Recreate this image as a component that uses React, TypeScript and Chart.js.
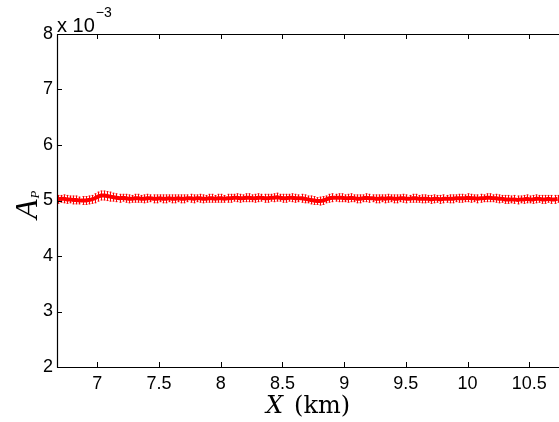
import React, { useEffect, useRef } from "react";
import { Chart, registerables } from "chart.js";

Chart.register(...registerables);

// X positions (km)
const xKm: number[] = [
  6.68, 6.705, 6.73, 6.755, 6.78, 6.805, 6.83, 6.855, 6.88, 6.905,
  6.93, 6.955, 6.98, 7.005, 7.03, 7.055, 7.08, 7.105, 7.13, 7.155,
  7.18, 7.205, 7.23, 7.255, 7.28, 7.305, 7.33, 7.355, 7.38, 7.405,
  7.43, 7.455, 7.48, 7.505, 7.53, 7.555, 7.58, 7.605, 7.63, 7.655,
  7.68, 7.705, 7.73, 7.755, 7.78, 7.805, 7.83, 7.855, 7.88, 7.905,
  7.93, 7.955, 7.98, 8.005, 8.03, 8.055, 8.08, 8.105, 8.13, 8.155,
  8.18, 8.205, 8.23, 8.255, 8.28, 8.305, 8.33, 8.355, 8.38, 8.405,
  8.43, 8.455, 8.48, 8.505, 8.53, 8.555, 8.58, 8.605, 8.63, 8.655,
  8.68, 8.705, 8.73, 8.755, 8.78, 8.805, 8.83, 8.855, 8.88, 8.905,
  8.93, 8.955, 8.98, 9.005, 9.03, 9.055, 9.08, 9.105, 9.13, 9.155,
  9.18, 9.205, 9.23, 9.255, 9.28, 9.305, 9.33, 9.355, 9.38, 9.405,
  9.43, 9.455, 9.48, 9.505, 9.53, 9.555, 9.58, 9.605, 9.63, 9.655,
  9.68, 9.705, 9.73, 9.755, 9.78, 9.805, 9.83, 9.855, 9.88, 9.905,
  9.93, 9.955, 9.98, 10.005, 10.03, 10.055, 10.08, 10.105, 10.13, 10.155,
  10.18, 10.205, 10.23, 10.255, 10.28, 10.305, 10.33, 10.355, 10.38, 10.405,
  10.43, 10.455, 10.48, 10.505, 10.53, 10.555, 10.58, 10.605, 10.63, 10.655,
  10.68, 10.705, 10.73,
];

// A_P values (x 10^-3)
const apValues: number[] = [
  5.02, 5.03, 5.03, 5.02, 5.02, 5.01, 5.01, 5.00, 5.00, 5.00,
  5.01, 5.02, 5.04, 5.07, 5.09, 5.09, 5.08, 5.07, 5.06, 5.05,
  5.04, 5.05, 5.04, 5.03, 5.03, 5.04, 5.04, 5.03, 5.03, 5.04,
  5.04, 5.03, 5.03, 5.04, 5.03, 5.03, 5.04, 5.03, 5.03, 5.04,
  5.03, 5.03, 5.04, 5.04, 5.03, 5.04, 5.04, 5.03, 5.03, 5.04,
  5.04, 5.03, 5.04, 5.04, 5.03, 5.04, 5.04, 5.05, 5.05, 5.04,
  5.04, 5.05, 5.05, 5.04, 5.04, 5.05, 5.05, 5.04, 5.04, 5.05,
  5.05, 5.06, 5.05, 5.04, 5.04, 5.05, 5.05, 5.04, 5.04, 5.04,
  5.03, 5.02, 5.01, 5.00, 4.99, 4.99, 5.00, 5.02, 5.04, 5.05,
  5.05, 5.05, 5.05, 5.04, 5.04, 5.05, 5.04, 5.03, 5.03, 5.04,
  5.05, 5.04, 5.04, 5.03, 5.03, 5.04, 5.03, 5.04, 5.04, 5.03,
  5.03, 5.04, 5.04, 5.03, 5.03, 5.04, 5.04, 5.03, 5.03, 5.03,
  5.03, 5.02, 5.03, 5.03, 5.02, 5.03, 5.03, 5.03, 5.03, 5.04,
  5.04, 5.04, 5.04, 5.05, 5.04, 5.04, 5.03, 5.04, 5.04, 5.05,
  5.05, 5.04, 5.04, 5.03, 5.03, 5.02, 5.02, 5.02, 5.02, 5.01,
  5.02, 5.02, 5.03, 5.02, 5.02, 5.03, 5.03, 5.02, 5.02, 5.03,
  5.02, 5.02, 5.03,
];

// error half-widths (x 10^-3)
const apErrors: number[] = [
  0.08, 0.07, 0.08, 0.08, 0.07, 0.08, 0.08, 0.07, 0.08, 0.08,
  0.08, 0.08, 0.09, 0.09, 0.09, 0.09, 0.09, 0.09, 0.08, 0.08,
  0.08, 0.07, 0.08, 0.08, 0.07, 0.08, 0.08, 0.07, 0.08, 0.08,
  0.07, 0.08, 0.08, 0.07, 0.08, 0.08, 0.07, 0.08, 0.08, 0.07,
  0.08, 0.08, 0.07, 0.08, 0.08, 0.07, 0.08, 0.08, 0.07, 0.08,
  0.08, 0.07, 0.08, 0.08, 0.07, 0.08, 0.08, 0.07, 0.08, 0.08,
  0.07, 0.08, 0.08, 0.07, 0.08, 0.08, 0.07, 0.08, 0.08, 0.07,
  0.08, 0.08, 0.07, 0.08, 0.08, 0.07, 0.08, 0.08, 0.07, 0.08,
  0.08, 0.07, 0.08, 0.08, 0.07, 0.08, 0.08, 0.07, 0.08, 0.08,
  0.07, 0.08, 0.08, 0.07, 0.08, 0.08, 0.07, 0.08, 0.08, 0.07,
  0.08, 0.08, 0.07, 0.08, 0.08, 0.07, 0.08, 0.08, 0.07, 0.08,
  0.08, 0.07, 0.08, 0.08, 0.07, 0.08, 0.08, 0.07, 0.08, 0.08,
  0.07, 0.08, 0.08, 0.07, 0.08, 0.08, 0.07, 0.08, 0.08, 0.07,
  0.08, 0.08, 0.07, 0.08, 0.08, 0.07, 0.08, 0.08, 0.07, 0.08,
  0.08, 0.07, 0.08, 0.08, 0.07, 0.08, 0.08, 0.07, 0.08, 0.08,
  0.07, 0.08, 0.08, 0.07, 0.08, 0.08, 0.07, 0.08, 0.08, 0.07,
  0.08, 0.08, 0.07,
];

const xMin = 6.673;
const xMax = 10.741;
const yMin = 2;
const yMax = 8;
const xTickStep = 0.5;
const yTickStep = 1;

const SANS = '"Liberation Sans", Arial, Helvetica, sans-serif';
const SERIF = '"Liberation Serif", "Times New Roman", serif';
const WIDE_SERIF = '"DejaVu Serif", "Liberation Serif", serif';

const errorBarPlugin = {
  id: "errorBars",
  afterDatasetsDraw(chart: any) {
    const ctx = chart.ctx;
    const xs = chart.scales.x;
    const ys = chart.scales.y;
    ctx.save();
    ctx.lineWidth = 1;
    ctx.lineCap = "butt";
    for (let i = 0; i < xKm.length; i++) {
      const px = Math.round(xs.getPixelForValue(xKm[i])) + 0.5;
      const top = ys.getPixelForValue(apValues[i] + apErrors[i]);
      const bot = ys.getPixelForValue(apValues[i] - apErrors[i]);
      ctx.strokeStyle = "#ff0000";
      ctx.beginPath();
      ctx.moveTo(px, top);
      ctx.lineTo(px, bot);
      ctx.stroke();
      ctx.strokeStyle = "rgba(255,0,0,0.45)";
      ctx.beginPath();
      ctx.moveTo(px - 1.5, top + 0.5);
      ctx.lineTo(px + 1.5, top + 0.5);
      ctx.moveTo(px - 1.5, bot - 0.5);
      ctx.lineTo(px + 1.5, bot - 0.5);
      ctx.stroke();
    }
    ctx.restore();
  },
};

const framePlugin = {
  id: "matlabFrame",
  afterDraw(chart: any) {
    const ctx = chart.ctx;
    const area = chart.chartArea;
    const xs = chart.scales.x;
    const ys = chart.scales.y;
    ctx.save();
    ctx.strokeStyle = "#000";
    ctx.lineWidth = 1.2;
    ctx.beginPath();
    ctx.moveTo(area.left + 0.5, area.top + 0.5);
    ctx.lineTo(area.left + 0.5, area.bottom + 0.5);
    ctx.moveTo(area.left, area.bottom + 0.5);
    ctx.lineTo(area.right, area.bottom + 0.5);
    ctx.moveTo(area.left, area.top + 0.5);
    ctx.lineTo(area.right, area.top + 0.5);
    ctx.stroke();
    // inward ticks
    ctx.lineWidth = 1;
    ctx.beginPath();
    xs.ticks.forEach((t: any) => {
      const px = Math.round(xs.getPixelForValue(t.value)) + 0.5;
      ctx.moveTo(px, area.bottom);
      ctx.lineTo(px, area.bottom - 5);
      ctx.moveTo(px, area.top);
      ctx.lineTo(px, area.top + 5);
    });
    ys.ticks.forEach((t: any) => {
      const py = Math.round(ys.getPixelForValue(t.value)) + 0.5;
      ctx.moveTo(area.left, py);
      ctx.lineTo(area.left + 5, py);
    });
    ctx.stroke();

    // exponent label "x 10^-3"
    ctx.fillStyle = "#000";
    ctx.textBaseline = "alphabetic";
    ctx.textAlign = "left";
    ctx.font = "20px " + SANS;
    ctx.fillText("x 10", area.left, area.top - 2);
    const w10 = ctx.measureText("x 10").width;
    ctx.font = "14px " + SANS;
    ctx.fillText("\u22123", area.left + w10 + 1, area.top - 17);

    // x title: X (km)
    const cx = (area.left + area.right) / 2;
    const baseY = 413;
    ctx.font = "italic 24px " + WIDE_SERIF;
    const xw = ctx.measureText("X").width;
    ctx.font = "24px " + WIDE_SERIF;
    const kmw = ctx.measureText("(km)").width;
    const gap = 11;
    const total = xw + gap + kmw;
    const startX = cx - total / 2;
    ctx.font = "italic 24px " + WIDE_SERIF;
    ctx.fillText("X", startX, baseY);
    ctx.font = "24px " + WIDE_SERIF;
    ctx.fillText("(km)", startX + xw + gap, baseY);

    // y title: A_P rotated
    ctx.translate(37, 219);
    ctx.rotate(-Math.PI / 2);
    ctx.font = "italic 32px " + SERIF;
    ctx.fillText("A", 0, 0);
    const aw = ctx.measureText("A").width;
    ctx.font = "italic 13px " + SERIF;
    ctx.fillText("P", aw + 1, 2);
    ctx.restore();
  },
};

export default function App() {
  const canvasRef = useRef<HTMLCanvasElement | null>(null);

  useEffect(() => {
    const canvas = canvasRef.current;
    if (!canvas) return;
    const points = xKm.map((x, i) => ({ x, y: apValues[i] }));
    const chart = new Chart(canvas, {
      type: "line",
      data: {
        datasets: [
          {
            label: "A_P",
            data: points,
            borderColor: "#ff0000",
            backgroundColor: "#ff0000",
            borderWidth: 4,
            pointRadius: 0,
            tension: 0,
          },
        ],
      },
      options: {
        responsive: false,
        animation: false,
        devicePixelRatio: 1,
        layout: { padding: { top: 34, right: 0, left: 0, bottom: 0 } },
        plugins: {
          legend: { display: false },
          tooltip: { enabled: false },
          title: { display: false },
        },
        scales: {
          x: {
            type: "linear",
            min: xMin,
            max: xMax,
            grid: { display: false, drawTicks: false },
            border: { display: false },
            ticks: {
              stepSize: xTickStep,
              includeBounds: false,
              autoSkip: false,
              maxRotation: 0,
              padding: 6,
              color: "#000",
              font: { family: SANS, size: 18 },
              callback: (v: any) => String(Number(v)),
            },
            afterFit: (scale: any) => {
              scale.height = 55;
            },
          },
          y: {
            type: "linear",
            min: yMin,
            max: yMax,
            grid: { display: false, drawTicks: false },
            border: { display: false },
            ticks: {
              stepSize: yTickStep,
              padding: 4,
              color: "#000",
              font: { family: SANS, size: 18 },
              callback: (v: any) => String(Number(v)),
            },
            afterFit: (scale: any) => {
              scale.width = 57;
            },
          },
        },
      },
      plugins: [errorBarPlugin, framePlugin],
    });
    return () => chart.destroy();
  }, []);

  return (
    <div style={{ position: "fixed", left: 0, top: 0, width: 559, height: 422, background: "#fff" }}>
      <canvas ref={canvasRef} width={559} height={422} style={{ display: "block" }} />
    </div>
  );
}
